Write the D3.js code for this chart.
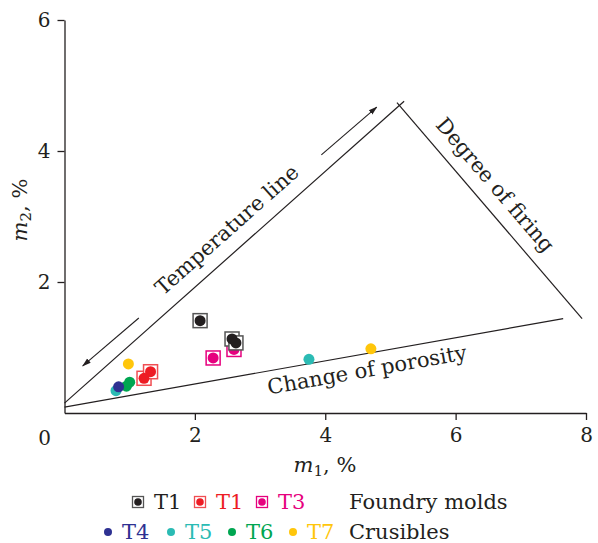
<!DOCTYPE html>
<html>
<head>
<meta charset="utf-8">
<script src="https://cdn.jsdelivr.net/npm/d3@7"></script>
<style>
  body { margin: 0; background: #fff; }
  svg { display: block; font-family: "DejaVu Serif", "Liberation Serif", serif; }
</style>
</head>
<body>
<div id="chart"></div>
<script>
// data (m1 %, m2 %)
var foundryT1a = [[2.08, 1.41], [2.57, 1.13], [2.63, 1.07]];
var foundryT1b = [[1.22, 0.53], [1.32, 0.63]];
var foundryT3 = [[2.28, 0.84], [2.60, 0.97]];
var crucibleT4 = [[0.83, 0.40]];
var crucibleT5 = [[0.79, 0.34], [3.75, 0.82]];
var crucibleT6 = [[0.95, 0.41], [1.00, 0.47]];
var crucibleT7 = [[0.98, 0.75], [4.70, 0.98]];

// guide lines and arrows, in data units
var temperatureLine = [[0, 0.15], [5.21, 4.76]];
var firingLine = [[5.10, 4.74], [7.94, 1.44]];
var porosityLine = [[0, 0.09], [7.65, 1.44]];
var upArrow = [[3.94, 3.94], [4.79, 4.67]];
var downArrow = [[1.14, 1.45], [0.28, 0.72]];

var xTicks = [2, 4, 6, 8];
var yTicks = [2, 4, 6];

var colors = { black: '#231f20', red: '#ed1c24', magenta: '#e6007e', blue: '#2e3192', cyan: '#2bbbb4', green: '#00a651', yellow: '#ffc60b' };

var width = 598, height = 543;
var svg = d3.select('#chart').append('svg')
    .attr('width', width)
    .attr('height', height);

var x = d3.scaleLinear().domain([0, 8]).range([64.5, 586]);
var y = d3.scaleLinear().domain([0, 6]).range([413, 20]);

svg.append('defs').append('marker')
    .attr('id', 'head')
    .attr('viewBox', '0 0 10 10')
    .attr('refX', 9).attr('refY', 5)
    .attr('markerWidth', 9).attr('markerHeight', 9)
    .attr('markerUnits', 'userSpaceOnUse')
    .attr('orient', 'auto')
    .append('path')
    .attr('d', 'M0,2 L10,5 L0,8 Z')
    .attr('fill', '#231f20');

// axes
var xAxis = svg.append('g')
    .attr('transform', `translate(0,${y(0)})`)
    .call(d3.axisBottom(x).tickValues(xTicks).tickFormat(d3.format('d')).tickSize(7).tickSizeOuter(0).tickPadding(8));
var yAxis = svg.append('g')
    .attr('transform', `translate(${x(0)},0)`)
    .call(d3.axisLeft(y).tickValues(yTicks).tickFormat(d3.format('d')).tickSize(7).tickSizeOuter(0).tickPadding(7));

[xAxis, yAxis].forEach(function(ax) {
    ax.select('.domain').attr('stroke', '#231f20').attr('stroke-width', 1.3);
    ax.selectAll('.tick line').attr('stroke', '#231f20').attr('stroke-width', 1.3);
    ax.selectAll('.tick text').attr('font-size', 20).attr('font-family', '"DejaVu Serif", serif').attr('fill', '#231f20');
});

svg.append('text')
    .attr('x', x(0) - 20).attr('y', y(0) + 32)
    .attr('text-anchor', 'middle')
    .attr('font-size', 20).attr('fill', '#231f20')
    .text('0');

// axis titles
var xTitle = svg.append('text')
    .attr('x', 325).attr('y', 472)
    .attr('text-anchor', 'middle')
    .attr('font-size', 21).attr('fill', '#231f20');
xTitle.append('tspan').attr('font-style', 'italic').text('m');
xTitle.append('tspan').attr('font-size', 15).attr('dy', 4).text('1');
xTitle.append('tspan').attr('dy', -4).text(', %');

var yTitle = svg.append('text')
    .attr('transform', 'translate(27,210) rotate(-90)')
    .attr('text-anchor', 'middle')
    .attr('font-size', 21).attr('fill', '#231f20');
yTitle.append('tspan').attr('font-style', 'italic').text('m');
yTitle.append('tspan').attr('font-size', 15).attr('dy', 4).text('2');
yTitle.append('tspan').attr('dy', -4).text(', %');

// guide lines
var line = d3.line().x(d => x(d[0])).y(d => y(d[1]));
[temperatureLine, firingLine, porosityLine].forEach(function(seg) {
    svg.append('path')
        .attr('d', line(seg))
        .attr('fill', 'none')
        .attr('stroke', '#231f20')
        .attr('stroke-width', 1.2);
});
[upArrow, downArrow].forEach(function(seg) {
    svg.append('path')
        .attr('d', line(seg))
        .attr('fill', 'none')
        .attr('stroke', '#231f20')
        .attr('stroke-width', 1.1)
        .attr('marker-end', 'url(#head)');
});

// rotated labels along the lines
function angleOf(seg) {
    return Math.atan2(y(seg[1][1]) - y(seg[0][1]), x(seg[1][0]) - x(seg[0][0])) * 180 / Math.PI;
}
function lineLabel(txt, cx, cy, ang) {
    svg.append('text')
        .attr('transform', `translate(${cx},${cy}) rotate(${ang})`)
        .attr('text-anchor', 'middle')
        .attr('dominant-baseline', 'central')
        .attr('font-size', 21)
        .attr('fill', '#231f20')
        .text(txt);
}
lineLabel('Temperature line', 227, 230, angleOf(temperatureLine));
lineLabel('Degree of firing', 495, 185, angleOf(firingLine));
lineLabel('Change of porosity', 367, 370, angleOf(porosityLine));

// points
function squares(data, col, stroke) {
    svg.append('g').selectAll('rect')
        .data(data).enter().append('rect')
        .attr('x', d => x(d[0]) - 7).attr('y', d => y(d[1]) - 7)
        .attr('width', 14).attr('height', 14)
        .attr('fill', 'white')
        .attr('stroke', stroke)
        .attr('stroke-width', 1.5);
    dots(data, col, 5.5);
}
function dots(data, col, r) {
    svg.append('g').selectAll('circle')
        .data(data).enter().append('circle')
        .attr('cx', d => x(d[0])).attr('cy', d => y(d[1]))
        .attr('r', r)
        .attr('fill', col);
}
dots(crucibleT5, colors.cyan, 5.5);
dots(crucibleT6, colors.green, 5.5);
dots(crucibleT4, colors.blue, 5.5);
dots(crucibleT7, colors.yellow, 5.5);
squares(foundryT1b, colors.red, '#f04e53');
squares(foundryT3, colors.magenta, colors.magenta);
squares(foundryT1a, colors.black, '#555');

// legend
var legendRow1 = [
    { label: 'T1', col: colors.black, stroke: '#555', x: 138 },
    { label: 'T1', col: colors.red, stroke: '#f04e53', x: 200 },
    { label: 'T3', col: colors.magenta, stroke: colors.magenta, x: 262 }
];
var legendRow2 = [
    { label: 'T4', col: colors.blue, x: 108 },
    { label: 'T5', col: colors.cyan, x: 171 },
    { label: 'T6', col: colors.green, x: 232 },
    { label: 'T7', col: colors.yellow, x: 293 }
];
var ly1 = 502, ly2 = 532;
legendRow1.forEach(function(d) {
    svg.append('rect')
        .attr('x', d.x - 5.5).attr('y', ly1 - 5.5)
        .attr('width', 11).attr('height', 11)
        .attr('fill', 'white').attr('stroke', d.stroke).attr('stroke-width', 1.3);
    svg.append('circle').attr('cx', d.x).attr('cy', ly1).attr('r', 3.8).attr('fill', d.col);
    svg.append('text')
        .attr('x', d.x + 16).attr('y', ly1)
        .attr('dominant-baseline', 'central')
        .attr('font-size', 21).attr('fill', d.col)
        .text(d.label);
});
legendRow2.forEach(function(d) {
    svg.append('circle').attr('cx', d.x).attr('cy', ly2).attr('r', 4).attr('fill', d.col);
    svg.append('text')
        .attr('x', d.x + 14).attr('y', ly2)
        .attr('dominant-baseline', 'central')
        .attr('font-size', 21).attr('fill', d.col)
        .text(d.label);
});
svg.append('text')
    .attr('x', 349).attr('y', ly1)
    .attr('dominant-baseline', 'central')
    .attr('font-size', 21).attr('fill', '#231f20')
    .text('Foundry molds');
svg.append('text')
    .attr('x', 349).attr('y', ly2)
    .attr('dominant-baseline', 'central')
    .attr('font-size', 21).attr('fill', '#231f20')
    .text('Crusibles');
</script>
</body>
</html>
